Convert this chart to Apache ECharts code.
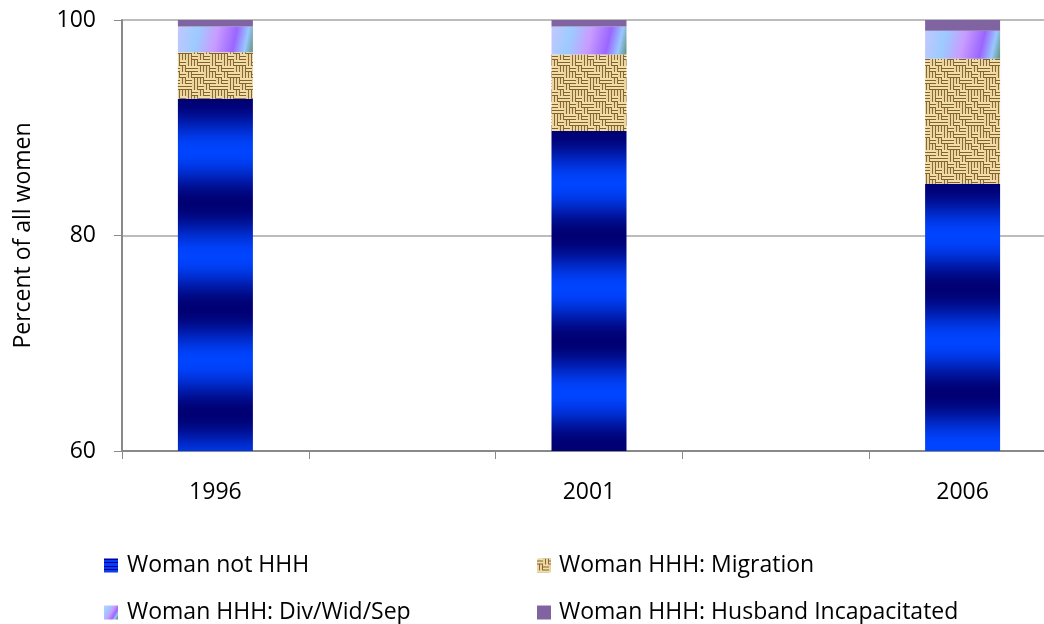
<!DOCTYPE html>
<html>
<head>
<meta charset="utf-8">
<script src="https://cdn.jsdelivr.net/npm/echarts@6/dist/echarts.min.js"></script>
<style>
html, body { margin: 0; padding: 0; background: #fff; overflow: hidden; }
#chart { width: 1070px; height: 624px; }
</style>
</head>
<body>
<div id="chart"></div>
<script>
// values, percent of all women
const years = ['1996', '2001', '2006']
const notHHH = [92.7, 89.7, 84.8]
const migration = [4.3, 7.1, 11.6]
const divWidSep = [2.4, 2.6, 2.6]
const husbandInc = [0.6, 0.6, 1.0]
const yMin = 60
const yMax = 100
const yStep = 20

const plotTop = 20
const plotHeight = 431

// the original axis has an empty slot between the years
const axisCats = []
years.forEach((y, i) => {
  axisCats.push(y)
  if (i < years.length - 1) axisCats.push('')
})
function spread(values) {
  const out = []
  values.forEach((v, i) => {
    out.push(v)
    if (i < values.length - 1) out.push('-')
  })
  return out
}

// blue bands, dark at the top of each bar
function blueMix(k) {
  const g = Math.round(68 * k)
  const b = Math.round(115 + 140 * k)
  return 'rgb(0,' + g + ',' + b + ')'
}
function blueBands(h) {
  const period = 105
  const stops = []
  for (let t = 0; t < h; t += 4) {
    stops.push({ offset: t / h, color: blueMix(0.5 - 0.5 * Math.cos(2 * Math.PI * t / period)) })
  }
  stops.push({ offset: 1, color: blueMix(0.5 - 0.5 * Math.cos(2 * Math.PI * h / period)) })
  return { type: 'linear', x: 0, y: 0, x2: 0, y2: 1, colorStops: stops }
}
function legendStripes() {
  const stops = []
  for (let i = 0; i < 4; i++) {
    const a = i / 4
    stops.push({ offset: a, color: '#0000a0' })
    stops.push({ offset: a + 0.1, color: '#0000a0' })
    stops.push({ offset: a + 0.1, color: '#0a3cf0' })
    stops.push({ offset: a + 0.25, color: '#0a3cf0' })
  }
  return { type: 'linear', x: 0, y: 0, x2: 0, y2: 1, colorStops: stops }
}

// woven sack texture, drawn sharp then softened
function burlap() {
  const raw = document.createElement('canvas')
  raw.width = 36
  raw.height = 36
  const g = raw.getContext('2d')
  g.fillStyle = '#b8975e'
  g.fillRect(0, 0, 36, 36)
  const flip = [
    [0, 1, 0, 0, 1, 1],
    [1, 0, 1, 1, 0, 0],
    [0, 0, 1, 0, 1, 0],
    [1, 1, 0, 1, 0, 1],
    [0, 1, 1, 0, 0, 1],
    [1, 0, 0, 1, 1, 0]
  ]
  for (let i = 0; i < 6; i++) {
    for (let j = 0; j < 6; j++) {
      const x = i * 6
      const y = j * 6
      for (let s = 0; s < 2; s++) {
        if (flip[j][i] === 0) {
          g.fillStyle = '#f2dda6'
          g.fillRect(x, y + s * 3, 6, 2)
          g.fillStyle = '#806232'
          g.fillRect(x, y + s * 3 + 2, 6, 1)
        } else {
          g.fillStyle = '#ecd49a'
          g.fillRect(x + s * 3, y, 2, 6)
          g.fillStyle = '#86683a'
          g.fillRect(x + s * 3 + 2, y, 1, 6)
        }
      }
    }
  }
  const c = document.createElement('canvas')
  c.width = 36
  c.height = 36
  const g2 = c.getContext('2d')
  g2.filter = 'blur(0.6px)'
  for (let dx = -36; dx <= 36; dx += 36) {
    for (let dy = -36; dy <= 36; dy += 36) g2.drawImage(raw, dx, dy)
  }
  return c
}

const notHHHData = spread(notHHH).map(v => {
  if (v === '-') return v
  const h = (Math.min(v, yMax) - yMin) / (yMax - yMin) * plotHeight
  return { value: v, itemStyle: { color: blueBands(h) } }
})

const divGradient = {
  type: 'linear', x: 0, y: 0.2, x2: 1, y2: 0.8,
  colorStops: [
    { offset: 0, color: '#c0c8ff' },
    { offset: 0.25, color: '#9ccbff' },
    { offset: 0.5, color: '#c99cff' },
    { offset: 0.75, color: '#9a66ff' },
    { offset: 0.9, color: '#98c8ff' },
    { offset: 1, color: '#6a9a8c' }
  ]
}

const font = 'Open Sans'
const axisGray = '#898989'

function legendAt(left, top, name, gap) {
  return {
    left: left,
    top: top,
    itemWidth: 14,
    itemHeight: 14,
    icon: 'rect',
    textStyle: { fontSize: 23, color: '#000', padding: [0, 0, 0, gap] },
    data: [name]
  }
}

const option = {
  animation: false,
  textStyle: { fontFamily: font },
  grid: { left: 122, top: plotTop, width: 934, height: plotHeight, containLabel: false },
  legend: [
    legendAt(99, 549, 'Woman not HHH', 4),
    legendAt(99, 596, 'Woman HHH: Div/Wid/Sep', 4),
    legendAt(532, 549, 'Woman HHH: Migration', 3),
    legendAt(532, 596, 'Woman HHH: Husband Incapacitated', 3)
  ],
  xAxis: {
    type: 'category',
    data: axisCats,
    boundaryGap: true,
    axisLine: { lineStyle: { color: axisGray, width: 2 } },
    axisTick: { show: true, length: 8, interval: 0, lineStyle: { color: axisGray, width: 1 } },
    axisLabel: { interval: 0, fontSize: 23, color: '#000', margin: 30 }
  },
  yAxis: {
    type: 'value',
    min: yMin,
    max: yMax,
    interval: yStep,
    name: 'Percent of all women',
    nameLocation: 'middle',
    nameGap: 87,
    nameTextStyle: { fontSize: 23, color: '#000' },
    axisLine: { show: true, lineStyle: { color: axisGray, width: 2 } },
    axisTick: { show: true, length: 8, lineStyle: { color: axisGray, width: 1 } },
    axisLabel: { fontSize: 23, color: '#000', margin: 26 },
    splitLine: { lineStyle: { color: '#a6a6a6', width: 1.5 } }
  },
  series: [
    {
      name: 'Woman not HHH',
      type: 'bar',
      stack: 'total',
      barWidth: 75,
      itemStyle: { color: legendStripes() },
      data: notHHHData
    },
    {
      name: 'Woman HHH: Migration',
      type: 'bar',
      stack: 'total',
      barWidth: 75,
      itemStyle: { color: { image: burlap(), repeat: 'repeat' } },
      data: spread(migration)
    },
    {
      name: 'Woman HHH: Div/Wid/Sep',
      type: 'bar',
      stack: 'total',
      barWidth: 75,
      itemStyle: { color: divGradient },
      data: spread(divWidSep)
    },
    {
      name: 'Woman HHH: Husband Incapacitated',
      type: 'bar',
      stack: 'total',
      barWidth: 75,
      itemStyle: { color: '#8064a2' },
      data: spread(husbandInc)
    }
  ]
}

const myChart = echarts.init(document.getElementById('chart'))
myChart.setOption(option)
</script>
</body>
</html>
